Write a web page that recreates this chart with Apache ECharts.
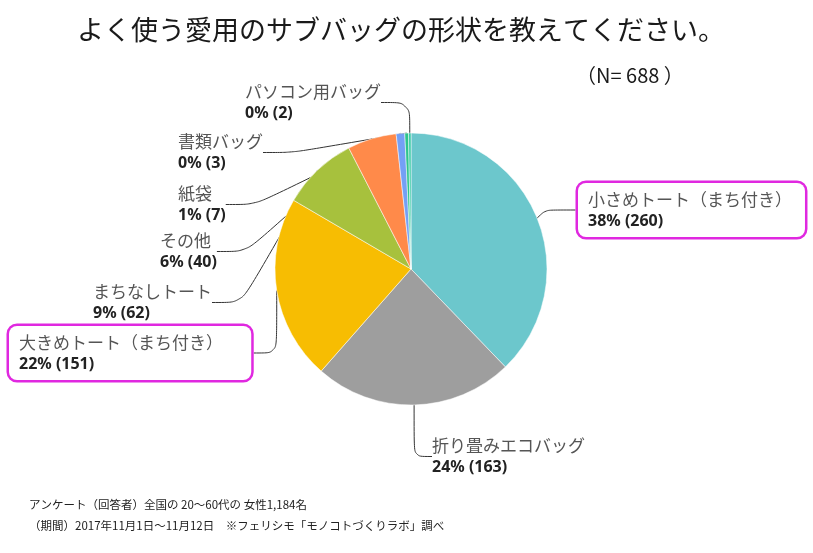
<!DOCTYPE html>
<html><head><meta charset="utf-8">
<script src="https://cdn.jsdelivr.net/npm/echarts@6/dist/echarts.min.js"></script>
<style>html,body{margin:0;padding:0;background:#fff}#c{width:813px;height:553px}</style>
</head><body><div id="c"></div>
<script>
const categories = ['小さめトート（まち付き）','折り畳みエコバッグ','大きめトート（まち付き）','まちなしトート','その他','紙袋','書類バッグ','パソコン用バッグ'];
const counts = [260,163,151,62,40,7,3,2];
const colors = ['#6CC7CC','#9E9E9E','#F7BD02','#A7C13D','#FF8A4A','#74A0F5','#2FC48C','#35C9A4'];
const highlighted = ['小さめトート（まち付き）','大きめトート（まち付き）'];
// label top-left positions (layout, not data)
const labelPos = [[578,183],[432,435],[9,326],[93,281],[160,230],[178,183],[178,131],[245,81]];

const total = counts.reduce((a,b)=>a+b,0);
const chart = echarts.init(document.getElementById('c'));
const data = categories.map((n,i)=>{
  const d = {name:n, value:counts[i], itemStyle:{color:colors[i]}};
  if (highlighted.includes(n)) {
    d.label = {borderColor:'#E028E0', borderWidth:2.5, borderRadius:8, padding:[6,8,5,10], backgroundColor:'#fff'};
  }
  return d;
});
chart.setOption({
  animation:false,
  title:[{
    text:'よく使う愛用のサブバッグの形状を教えてください。', left:72, top:11,
    textStyle:{fontFamily:'Noto Sans CJK JP', fontSize:27, fontWeight:'normal', color:'#1a1a1a'}
  },{
    text:'（N= 688 ）', left:571, top:60,
    textStyle:{fontFamily:'Noto Sans CJK JP', fontSize:20, fontWeight:'normal', color:'#1a1a1a'}
  },{
    text:'アンケート（回答者）全国の 20～60代の 女性1,184名\n（期間）2017年11月1日～11月12日　※フェリシモ「モノコトづくりラボ」調べ',
    left:24, top:489,
    textStyle:{fontFamily:'Noto Sans CJK JP', fontSize:11.5, fontWeight:'normal', color:'#222', lineHeight:21}
  }],
  series:[{
    type:'pie', center:[411,269], radius:[0,136], startAngle:90, clockwise:true,
    data:data,
    itemStyle:{borderColor:'#fff', borderWidth:0.5},
    label:{
      show:true, overflow:'none', alignTo:'none', bleedMargin:0,
      formatter:(p)=>'{n|'+p.name+'}\n{p|'+Math.round(p.value/total*100)+'% ('+p.value+')}',
      rich:{
        n:{fontFamily:'Noto Sans CJK JP', fontSize:17, color:'#555', lineHeight:22},
        p:{fontFamily:'Noto Sans', fontSize:16, fontWeight:'bold', color:'#222', lineHeight:21}
      }
    },
    labelLine:{show:true, smooth:0.3, lineStyle:{color:'#333', width:1}},
    labelLayout:(params)=>{
      const pos = labelPos[params.dataIndex];
      return {x:pos[0], y:pos[1], align:'left', verticalAlign:'top'};
    }
  }]
});
</script></body></html>
